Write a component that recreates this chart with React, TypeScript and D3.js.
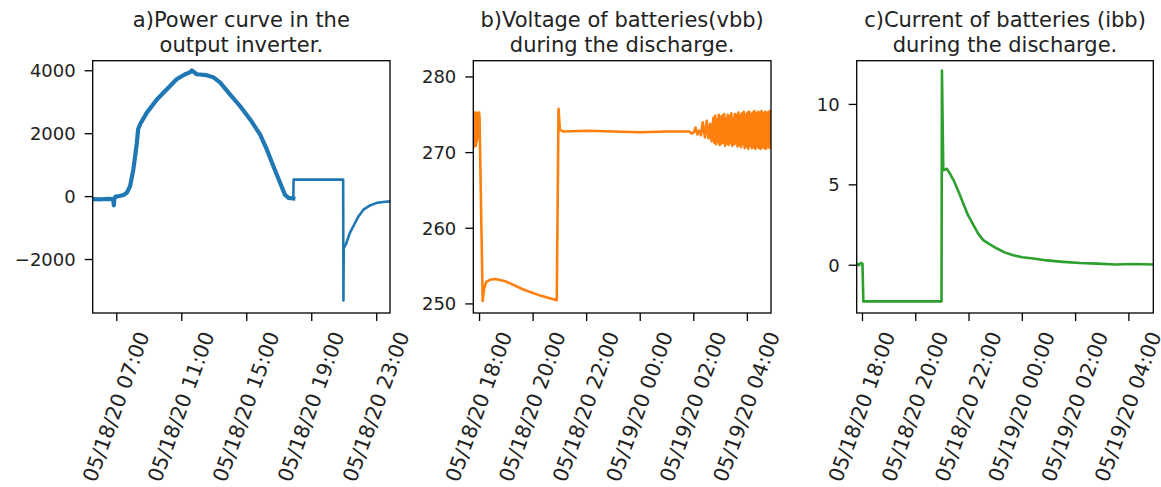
import React, { useEffect, useRef } from 'react';
import * as d3 from 'd3';

// a) power at the inverter output
const powerTimes = [
  '05-18 05:31', '05-18 06:00', '05-18 06:30', '05-18 06:47', '05-18 06:49', '05-18 06:51',
  '05-18 06:56', '05-18 07:10', '05-18 07:25', '05-18 07:37', '05-18 07:49', '05-18 08:01',
  '05-18 08:08', '05-18 08:14', '05-18 08:19', '05-18 08:26', '05-18 08:51', '05-18 09:28',
  '05-18 10:05', '05-18 10:41', '05-18 11:12', '05-18 11:30', '05-18 11:37', '05-18 11:55',
  '05-18 12:32', '05-18 12:57', '05-18 13:21', '05-18 13:58', '05-18 14:35', '05-18 15:12',
  '05-18 15:49', '05-18 16:14', '05-18 16:38', '05-18 17:03', '05-18 17:21', '05-18 17:34',
  '05-18 17:52',
  '05-18 17:53', '05-18 20:56', '05-18 20:57', '05-18 20:58', '05-18 21:07', '05-18 21:21',
  '05-18 21:33', '05-18 21:51', '05-18 22:11', '05-18 22:35', '05-18 23:00', '05-18 23:23',
  '05-18 23:49',
];
const powerValues = [
  -80, -85, -75, -80, -280, -60,
  0, 20, 50, 120, 330, 860,
  1300, 1710, 2150, 2300, 2670, 3090,
  3410, 3730, 3890, 3950, 4010, 3890,
  3860, 3790, 3630, 3250, 2880, 2460,
  1980, 1500, 970, 440, 60, -40,
  -60,
  540, 540, -3300, -1640, -1500, -1150,
  -950, -650, -415, -280, -200, -170,
  -150,
];
const powerNoisyCount = 37; // samples of the measured (noisy) part of the day
const powerTicks = ['05-18 07:00', '05-18 11:00', '05-18 15:00', '05-18 19:00', '05-18 23:00'];
const powerYTicks = [-2000, 0, 2000, 4000];

// b) battery voltage
const vbbTimes = [
  '05-18 17:46', '05-18 17:47', '05-18 17:48', '05-18 17:49', '05-18 17:50', '05-18 17:51',
  '05-18 17:52', '05-18 17:53', '05-18 17:54', '05-18 17:55', '05-18 17:57', '05-18 17:59',
  '05-18 18:00', '05-18 18:07', '05-18 18:10', '05-18 18:15', '05-18 18:24', '05-18 18:35',
  '05-18 18:58', '05-18 19:38', '05-18 20:16', '05-18 20:53', '05-18 20:57', '05-18 21:00',
  '05-18 21:08', '05-18 22:00', '05-18 23:00', '05-19 00:00', '05-19 01:00', '05-19 01:50',
  '05-19 01:55', '05-19 02:00', '05-19 02:04', '05-19 02:08', '05-19 02:12', '05-19 02:16',
  '05-19 02:20', '05-19 02:25', '05-19 02:29', '05-19 02:33', '05-19 02:37', '05-19 02:40',
];
const vbbValues = [
  271.0, 275.2, 270.8, 275.3, 271.2, 275.0,
  270.9, 275.3, 271.5, 275.1, 272.0, 275.3,
  274.5, 250.4, 252.0, 252.9, 253.2, 253.3,
  253.0, 251.9, 251.1, 250.5, 275.8, 273.0,
  272.8, 272.9, 272.8, 272.7, 272.8, 272.8,
  272.5, 272.7, 273.3, 272.4, 272.9, 272.3,
  274.0, 272.0, 274.2, 271.9, 273.8, 271.5,
];
// oscillating tail, sampled every 2 minutes
const vbbOscStart = '05-19 02:44';
const vbbOscStepMin = 2;
const vbbOscValues = [
  274.6, 271.3, 274.9, 271.1, 274.4, 271.4, 275.0, 271.0, 274.7, 271.2,
  274.9, 271.3, 275.1, 270.9, 274.5, 271.2, 275.0, 271.0, 274.8, 271.3,
  275.2, 270.9, 274.6, 271.1, 275.1, 271.2, 275.0, 270.8, 275.3, 271.0,
  274.9, 270.7, 275.2, 271.1, 275.4, 270.6, 275.0, 270.8, 275.3, 270.5,
  275.4, 270.9, 275.1, 270.6, 275.3, 270.7, 275.5, 270.5, 275.2, 270.8,
  275.4, 270.6, 275.3, 270.5, 275.5, 270.7, 275.2, 270.6, 275.4, 270.5,
  275.3, 270.8, 275.4, 270.6, 275.5,
];
const vbbYTicks = [250, 260, 270, 280];

// c) battery current
const ibbTimes = [
  '05-18 17:47', '05-18 17:52', '05-18 17:56', '05-18 18:00', '05-18 18:02', '05-18 20:58',
  '05-18 20:59', '05-18 21:02', '05-18 21:10', '05-18 21:17', '05-18 21:25', '05-18 21:36',
  '05-18 21:47', '05-18 21:58', '05-18 22:10', '05-18 22:21', '05-18 22:32', '05-18 22:47',
  '05-18 23:03', '05-18 23:20', '05-18 23:40', '05-19 00:00', '05-19 00:25', '05-19 00:55',
  '05-19 01:32', '05-19 02:10', '05-19 02:48', '05-19 03:30', '05-19 04:10', '05-19 04:55',
];
const ibbValues = [
  0.1, 0.0, 0.15, 0.1, -2.25, -2.25,
  12.1, 5.9, 6.0, 5.7, 5.3, 4.6,
  3.84, 3.1, 2.49, 1.95, 1.56, 1.3,
  1.04, 0.8, 0.62, 0.5, 0.42, 0.3,
  0.21, 0.14, 0.1, 0.05, 0.08, 0.05,
];
const ibbYTicks = [0, 5, 10];

const nightTicks = ['05-18 18:00', '05-18 20:00', '05-18 22:00', '05-19 00:00', '05-19 02:00', '05-19 04:00'];

const parse = d3.timeParse('%Y-%m-%d %H:%M');
const tp = (s: string) => parse('2020-' + s) as Date;
const fmt = d3.timeFormat('%m/%d/%y %H:%M');

type Pt = { t: Date; v: number };

function App() {
  const ref = useRef<SVGSVGElement>(null);

  useEffect(() => {
    const svg = d3.select(ref.current);
    svg.selectAll('*').remove();
    const font = 'DejaVu Sans, sans-serif';
    const top = 60.7, bottom = 313;
    const tickLen = 8;

    const oscStart = tp(vbbOscStart);
    const vbbPts: Pt[] = vbbTimes.map((s, i) => ({ t: tp(s), v: vbbValues[i] }))
      .concat(vbbOscValues.map((v, i) => ({ t: d3.timeMinute.offset(oscStart, i * vbbOscStepMin), v })));
    const powerPts: Pt[] = powerTimes.map((s, i) => ({ t: tp(s), v: powerValues[i] }));
    const ibbPts: Pt[] = ibbTimes.map((s, i) => ({ t: tp(s), v: ibbValues[i] }));

    const panels = [
      {
        id: 'a', left: 92.7, right: 390, xDom: ['05-18 05:31', '05-18 23:49'], yDom: [-3700, 4320],
        title: ['a)Power curve in the', 'output inverter.'], xTicks: powerTicks, yTicks: powerYTicks,
        color: '#1f77b4',
        segs: [
          { pts: powerPts.slice(0, powerNoisyCount), w: 4.2 },
          { pts: powerPts.slice(powerNoisyCount - 1), w: 2.6 },
        ],
      },
      {
        id: 'b', left: 473.3, right: 771, xDom: ['05-18 17:46', '05-19 04:53'], yDom: [248.8, 282.15],
        title: ['b)Voltage of batteries(vbb)', 'during the discharge.'], xTicks: nightTicks, yTicks: vbbYTicks,
        color: '#ff7f0e',
        segs: [{ pts: vbbPts, w: 2.6 }],
      },
      {
        id: 'c', left: 856.7, right: 1153.3, xDom: ['05-18 17:47', '05-19 04:55'], yDom: [-2.97, 12.72],
        title: ['c)Current of batteries (ibb)', 'during the discharge.'], xTicks: nightTicks, yTicks: ibbYTicks,
        color: '#2ca02c',
        segs: [{ pts: ibbPts, w: 2.6 }],
      },
    ];

    panels.forEach((p) => {
      const x = d3.scaleTime().domain(p.xDom.map(tp)).range([p.left, p.right]);
      const y = d3.scaleLinear().domain(p.yDom).range([bottom, top]);
      const g = svg.append('g');

      g.append('clipPath').attr('id', 'clip-' + p.id)
        .append('rect').attr('x', p.left).attr('y', top).attr('width', p.right - p.left).attr('height', bottom - top);

      const line = d3.line<Pt>().x((d) => x(d.t)).y((d) => y(d.v));
      p.segs.forEach((s) => {
        g.append('path').attr('d', line(s.pts)).attr('fill', 'none').attr('stroke', p.color)
          .attr('stroke-width', s.w).attr('stroke-linejoin', 'round').attr('stroke-linecap', 'square')
          .attr('clip-path', `url(#clip-${p.id})`);
      });

      // frame
      g.append('rect').attr('x', p.left).attr('y', top).attr('width', p.right - p.left).attr('height', bottom - top)
        .attr('fill', 'none').attr('stroke', '#000').attr('stroke-width', 1.3);

      // y ticks
      p.yTicks.forEach((v) => {
        const yy = y(v);
        g.append('line').attr('x1', p.left - tickLen).attr('x2', p.left).attr('y1', yy).attr('y2', yy)
          .attr('stroke', '#000').attr('stroke-width', 1.3);
        g.append('text').attr('x', p.left - tickLen - 9).attr('y', yy).attr('dy', '0.36em').attr('text-anchor', 'end')
          .attr('font-family', font).attr('font-size', 18).attr('fill', '#222')
          .text(d3.format('d')(v));
      });

      // x ticks with rotated labels (box centred on the tick, top just under it)
      p.xTicks.forEach((s) => {
        const xx = x(tp(s));
        g.append('line').attr('x1', xx).attr('x2', xx).attr('y1', bottom).attr('y2', bottom + tickLen)
          .attr('stroke', '#000').attr('stroke-width', 1.3);
        const txt = g.append('text').attr('text-anchor', 'middle').attr('dy', '0.36em')
          .attr('font-family', font).attr('font-size', 20.5).attr('fill', '#222')
          .text(fmt(tp(s)));
        const w = (txt.node() as SVGTextElement).getComputedTextLength();
        const a = (70 * Math.PI) / 180;
        const boxH = w * Math.sin(a) + 15 * Math.cos(a);
        const cy = bottom + tickLen + 9 + boxH / 2;
        txt.attr('transform', `translate(${xx - 1},${cy}) rotate(-70)`);
      });

      // title
      const cx = (p.left + p.right) / 2;
      const title = g.append('text').attr('text-anchor', 'middle').attr('font-family', font)
        .attr('font-size', 21).attr('fill', '#222');
      p.title.forEach((l, i) => {
        title.append('tspan').attr('x', cx).attr('y', 27 + i * 25).text(l);
      });
    });
  }, []);

  return (
    <svg ref={ref} width={1161} height={487}
      style={{ position: 'absolute', left: 0, top: 0, background: '#fff' }} />
  );
}

export default App;
